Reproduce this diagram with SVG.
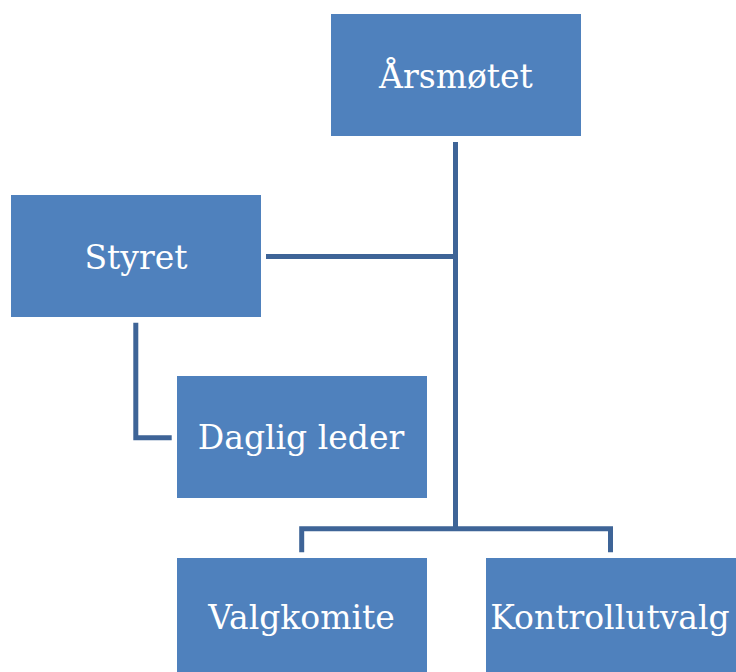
<svg xmlns="http://www.w3.org/2000/svg" width="736" height="672" viewBox="0 0 736 672">
  <style>
    .box { fill: #4F81BD; }
    .lbl { font-family: "DejaVu Serif", "Liberation Serif", serif; font-size: 33px; fill: #FFFFFF; text-anchor: middle; }
    .conn { fill: none; stroke: #3E6497; stroke-width: 5; stroke-linejoin: miter; stroke-linecap: butt; }
  </style>
  <rect width="736" height="672" fill="#FFFFFF"/>
  <g id="connectors">
    <path class="conn" d="M455.5 142 V528.7"/>
    <path class="conn" d="M266 256.5 H455.5"/>
    <path class="conn" d="M301.7 552.3 V528.7 H610.5 V552.3"/>
    <path class="conn" d="M135.8 322.7 V437.7 H171.7"/>
  </g>
  <g id="arsmotet">
    <rect class="box" x="331" y="14" width="250" height="122"/>
    <text class="lbl" x="456" y="87.5">Årsmøtet</text>
  </g>
  <g id="styret">
    <rect class="box" x="11" y="195" width="250" height="122"/>
    <text class="lbl" x="136" y="269.3">Styret</text>
  </g>
  <g id="daglig-leder">
    <rect class="box" x="177" y="376" width="250" height="122"/>
    <text class="lbl" x="301" y="449.3">Daglig leder</text>
  </g>
  <g id="valgkomite">
    <rect class="box" x="177" y="558" width="250" height="122"/>
    <text class="lbl" x="301.5" y="629.3">Valgkomite</text>
  </g>
  <g id="kontrollutvalg">
    <rect class="box" x="486" y="558" width="250" height="122"/>
    <text class="lbl" x="610" y="629.3">Kontrollutvalg</text>
  </g>
</svg>
